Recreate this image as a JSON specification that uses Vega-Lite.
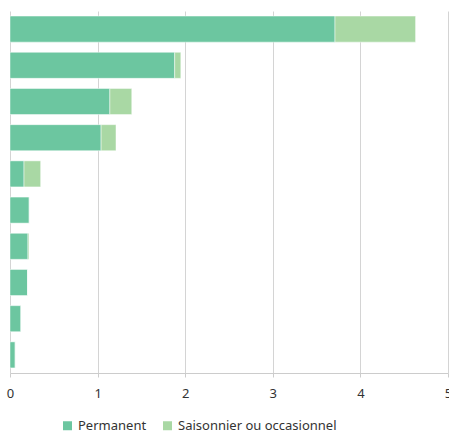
{
  "$schema": "https://vega.github.io/schema/vega-lite/v6.json",
  "autosize": {"type": "none"},
  "padding": {"left": 10, "top": 11, "right": 1, "bottom": 61},
  "width": 438,
  "height": 362,
  "background": "white",
  "config": {"view": {"stroke": null}, "font": "Noto Sans"},
  "data": {"values": [
    {"cat": "A", "type": "Permanent", "value": 3.71},
    {"cat": "A", "type": "Saisonnier ou occasionnel", "value": 0.92},
    {"cat": "B", "type": "Permanent", "value": 1.88},
    {"cat": "B", "type": "Saisonnier ou occasionnel", "value": 0.07},
    {"cat": "C", "type": "Permanent", "value": 1.14},
    {"cat": "C", "type": "Saisonnier ou occasionnel", "value": 0.25},
    {"cat": "D", "type": "Permanent", "value": 1.04},
    {"cat": "D", "type": "Saisonnier ou occasionnel", "value": 0.17},
    {"cat": "E", "type": "Permanent", "value": 0.16},
    {"cat": "E", "type": "Saisonnier ou occasionnel", "value": 0.19},
    {"cat": "F", "type": "Permanent", "value": 0.22},
    {"cat": "F", "type": "Saisonnier ou occasionnel", "value": 0.0},
    {"cat": "G", "type": "Permanent", "value": 0.205},
    {"cat": "G", "type": "Saisonnier ou occasionnel", "value": 0.012},
    {"cat": "H", "type": "Permanent", "value": 0.2},
    {"cat": "H", "type": "Saisonnier ou occasionnel", "value": 0.0},
    {"cat": "I", "type": "Permanent", "value": 0.125},
    {"cat": "I", "type": "Saisonnier ou occasionnel", "value": 0.0},
    {"cat": "J", "type": "Permanent", "value": 0.06},
    {"cat": "J", "type": "Saisonnier ou occasionnel", "value": 0.0}
  ]},
  "mark": {"type": "bar", "stroke": "white", "strokeWidth": 0.8, "strokeOpacity": 0.6},
  "encoding": {
    "y": {"field": "cat", "type": "nominal", "axis": null, "scale": {"paddingInner": 0.28, "paddingOuter": 0.14}},
    "x": {"field": "value", "type": "quantitative", "stack": "zero",
      "scale": {"domain": [0, 5], "nice": false},
      "axis": {"title": null, "values": [0, 1, 2, 3, 4, 5], "grid": true, "gridColor": "#d4d4d4", "gridWidth": 1,
        "domainColor": "#cccccc", "tickColor": "#cccccc", "tickSize": 4, "labelFontSize": 13, "labelColor": "#333333",
        "labelPadding": 10, "labelFlush": false, "labelOverlap": false}},
    "color": {"field": "type", "type": "nominal",
      "scale": {"domain": ["Permanent", "Saisonnier ou occasionnel"], "range": ["#6cc6a0", "#a9d8a4"]},
      "legend": {"title": null, "orient": "none", "legendX": 51, "legendY": 408, "direction": "horizontal",
        "symbolType": "square", "symbolSize": 81, "symbolStrokeWidth": 0, "labelFontSize": 13, "labelColor": "#333333",
        "labelOffset": 4, "columnPadding": 14}},
    "order": {"field": "type", "sort": "ascending"}
  }
}
